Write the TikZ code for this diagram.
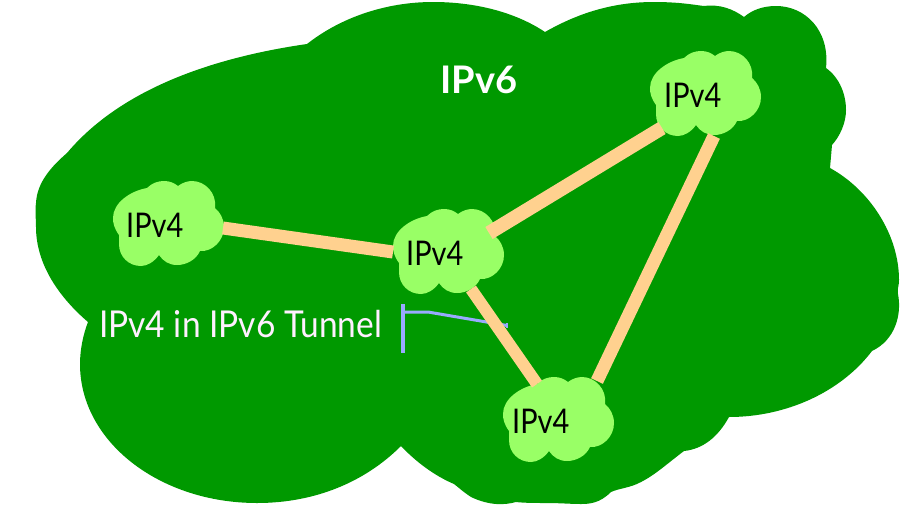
\documentclass[tikz,border=0pt]{standalone}
\usepackage{fontspec}
\setmainfont{Lato}
\newfontfamily\narrowlato[FakeStretch=0.85]{Lato}
\newfontfamily\midlato[FakeStretch=0.905]{Lato}
\definecolor{bigG}{HTML}{009900}
\definecolor{lightG}{HTML}{99FF66}
\definecolor{tan}{HTML}{FFD18F}
\definecolor{blu}{HTML}{99AAFF}
\definecolor{pale}{HTML}{FFF0FF}
\tikzset{
  link/.style={draw=tan,line width=#1},
  tunnel/.style={draw=blu,line width=3.5pt},
  cloudlabel/.style={text=black,font=\narrowlato\fontsize{34}{34}\selectfont,inner sep=0pt,anchor=base west},
  smalllobe/.style={fill=lightG}
}
\newcommand{\minicloud}[2]{%
  \fill[smalllobe,shift={(#1,#2)}]
    (7,54) .. controls (2,47) and (1,42) .. (1,37) .. controls (1,22) and (18,10) .. (35,7)
    .. controls (40,2) and (46,0) .. (52,0) .. controls (58,0) and (62,2) .. (66,5)
    .. controls (70,2) and (75,0) .. (80,0) .. controls (93,0) and (105,12) .. (103,27)
    .. controls (108,31) and (112,38) .. (112,46) .. controls (112,60) and (100,71) .. (88,70)
    .. controls (84,79) and (74,84) .. (65,84) .. controls (57,84) and (51,80) .. (47,74)
    .. controls (42,81) and (35,85) .. (29,85) .. controls (17,85) and (7,76) .. (7,63)
    .. controls (7,60) and (7,57) .. (7,54) -- cycle;}
\begin{document}
\begin{tikzpicture}[x=1pt,y=-1pt]
\useasboundingbox (0,0) rectangle (909,509);
% large cloud outline
\fill[bigG]
 (307,44) .. controls (340,18) and (385,2) .. (433,2) .. controls (475,2) and (515,12) .. (545,32)
 .. controls (580,12) and (615,2) .. (654,2) .. controls (680,2) and (695,5) .. (704,6)
 .. controls (720,4) and (733,9) .. (744,17)
 .. controls (752,10) and (763,6) .. (776,6) .. controls (805,6) and (830,30) .. (826,68)
 .. controls (840,78) and (846,95) .. (846,110) .. controls (846,123) and (840,136) .. (832,145)
 -- (830,168)
 .. controls (870,190) and (899,235) .. (899,280) .. controls (899,287) and (897,288) .. (898,294)
 .. controls (902,315) and (895,340) .. (872,351)
 .. controls (840,393) and (785,417) .. (729,417)
 .. controls (718,437) and (703,449) .. (684,451)
 .. controls (668,463) and (655,475) .. (641,482) .. controls (630,488) and (620,488) .. (611,492)
 .. controls (600,503) and (590,504) .. (581,504) .. controls (570,504) and (560,503) .. (547,503)
 .. controls (535,503) and (525,503) .. (516,502) .. controls (505,505) and (490,506) .. (471,497)
 .. controls (462,491) and (458,487) .. (454,484) .. controls (435,476) and (416,462) .. (401,446)
 .. controls (365,482) and (315,503) .. (257,503) .. controls (160,503) and (80,442) .. (80,364)
 .. controls (80,350) and (83,335) .. (88,322)
 .. controls (60,298) and (36,265) .. (36,227) .. controls (36,220) and (35,210) .. (36,203)
 .. controls (37,182) and (52,166) .. (67,153)
 .. controls (120,90) and (210,58) .. (307,44) -- cycle;
% connector end points
\coordinate (leftEnd) at (223,228);
\coordinate (midWest) at (393,252);
\coordinate (midNE) at (489,233);
\coordinate (topSW) at (662,128);
\coordinate (topS) at (714,136);
\coordinate (botNE) at (597,381);
\coordinate (midS) at (471,289);
\coordinate (botN) at (537,384);
\coordinate (tickTop) at (403,304);
\coordinate (tickBot) at (403,353);
\coordinate (bendA) at (403,312);
\coordinate (bendB) at (428,312);
\coordinate (bendC) at (507,325.5);
\coordinate (tickC) at (507,323);
\coordinate (tickD) at (507,328);
% tunnel marker
\draw[tunnel] (tickTop) -- (tickBot);
\draw[tunnel,line width=3pt] (bendA) -- (bendB) -- (bendC);
\draw[tunnel,line width=2pt] (tickC) -- (tickD);
% small clouds
\minicloud{112}{181}
\minicloud{392}{209}
\minicloud{649}{51}
\minicloud{502}{377}
% links
\draw[link=13pt] (leftEnd) -- (midWest);
\draw[link=14pt] (midNE) -- (topSW);
\draw[link=13pt] (topS) -- (botNE);
\draw[link=12pt] (midS) -- (botN);
% labels
\node[cloudlabel] (a) at (126,237) {IPv4};
\node[cloudlabel] (b) at (406,265) {IPv4};
\node[cloudlabel] (c) at (664,107) {IPv4};
\node[cloudlabel] (d) at (512,433) {IPv4};
\node[anchor=base west,inner sep=0pt,text=white,font=\bfseries\fontsize{38}{38}\selectfont] (six) at (440,93) {IPv6};
\node[anchor=base west,inner sep=0pt,text=pale,font=\midlato\fontsize{37}{37}\selectfont] (tun) at (99,337) {IPv4 in IPv6 Tunnel};
\end{tikzpicture}
\end{document}
